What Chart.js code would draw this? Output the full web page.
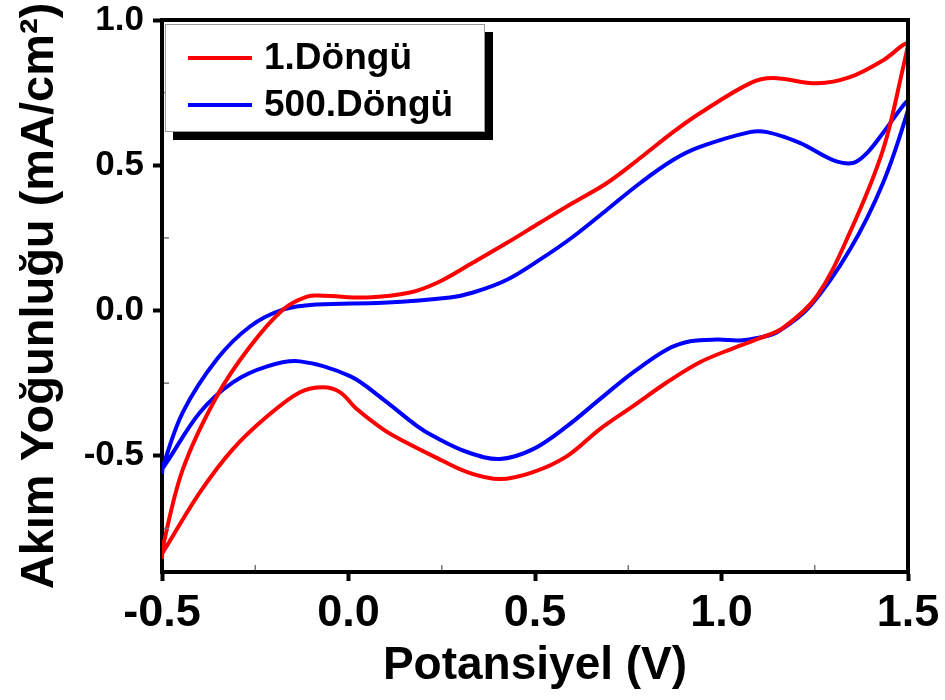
<!DOCTYPE html>
<html>
<head>
<meta charset="utf-8">
<script src="https://cdn.jsdelivr.net/npm/chart.js@4/dist/chart.umd.min.js"></script>
<style>
  html, body { margin: 0; padding: 0; background: #fff; }
  #wrap { width: 945px; height: 700px; }
</style>
</head>
<body>
<div id="wrap"><canvas id="cv"></canvas></div>
<script>
// DATA
const seriesLabels = ["1.Döngü", "500.Döngü"];
const seriesColors = ["#ff0000", "#0000ff"];

// 1.Döngü: anodic sweep (-0.5 -> 1.5) then cathodic sweep back
const redPotential = [
  -0.5, -0.497, -0.444, -0.353, -0.264, -0.176, -0.111, -0.068, 0.05, 0.165, 0.245, 0.334, 0.425,
  0.513, 0.602, 0.693, 0.782, 0.87, 0.942, 1.076, 1.138, 1.256, 1.344, 1.433, 1.5,
  1.487, 1.433, 1.344, 1.256, 1.165, 1.103, 1.031, 0.942, 0.854, 0.763, 0.674, 0.586, 0.495,
  0.406, 0.318, 0.227, 0.138, 0.092, 0.023, -0.023, -0.068, -0.13, -0.218, -0.31, -0.398, -0.487, -0.5
];
const redCurrent = [
  -0.855, -0.81, -0.546, -0.295, -0.124, 0.003, 0.048, 0.051, 0.045, 0.062, 0.1, 0.165, 0.233,
  0.302, 0.371, 0.439, 0.525, 0.614, 0.679, 0.782, 0.8, 0.782, 0.803, 0.861, 0.92,
  0.837, 0.553, 0.268, 0.05, -0.06, -0.095, -0.13, -0.178, -0.247, -0.329, -0.408, -0.501, -0.556,
  -0.58, -0.556, -0.501, -0.443, -0.408, -0.34, -0.281, -0.264, -0.281, -0.364, -0.477, -0.625, -0.81, -0.837
];

// 500.Döngü
const bluePotential = [
  -0.5, -0.497, -0.444, -0.353, -0.264, -0.176, -0.084, 0.092, 0.272, 0.334, 0.425, 0.513, 0.602,
  0.693, 0.782, 0.87, 0.942, 1.076, 1.122, 1.21, 1.299, 1.353, 1.39, 1.433, 1.5,
  1.5, 1.433, 1.344, 1.237, 1.149, 1.103, 1.05, 0.988, 0.916, 0.854, 0.763, 0.674, 0.586,
  0.495, 0.406, 0.318, 0.227, 0.184, 0.092, 0.004, -0.13, -0.218, -0.31, -0.398, -0.487, -0.5
];
const blueCurrent = [
  -0.563, -0.535, -0.35, -0.168, -0.055, 0.003, 0.021, 0.027, 0.045, 0.062, 0.106, 0.175, 0.254,
  0.347, 0.439, 0.518, 0.563, 0.614, 0.614, 0.577, 0.518, 0.508, 0.542, 0.611, 0.724,
  0.69, 0.439, 0.209, 0.014, -0.075, -0.093, -0.103, -0.1, -0.106, -0.134, -0.213, -0.305, -0.398,
  -0.477, -0.511, -0.487, -0.432, -0.398, -0.305, -0.226, -0.175, -0.192, -0.247, -0.35, -0.522, -0.546
];

const xTicks = [-0.5, 0.0, 0.5, 1.0, 1.5];
const yTicks = [-0.5, 0.0, 0.5, 1.0];
const xMinorTicks = [-0.25, 0.25, 0.75, 1.25];
const yMinorTicks = [-0.75, -0.25, 0.25, 0.75];

const FONT = "'Liberation Sans', Arial, sans-serif";

function toPoints(xs, ys) {
    return xs.map((x, i) => ({ x: x, y: ys[i] }));
}

// frame on top/right, minor ticks, and the boxed legend
const framePlugin = {
    id: "frame",
    afterDraw(chart) {
        const ctx = chart.ctx;
        const a = chart.chartArea;
        const xs = chart.scales.x;
        const ys = chart.scales.y;
        ctx.save();
        ctx.strokeStyle = "#000";
        ctx.lineWidth = 4;
        ctx.beginPath();
        ctx.moveTo(a.left - 2, a.top);
        ctx.lineTo(a.right, a.top);
        ctx.lineTo(a.right, a.bottom + 2);
        ctx.stroke();

        // minor ticks, pointing inward
        ctx.lineWidth = 1.5;
        ctx.strokeStyle = "#777";
        xMinorTicks.forEach(v => {
            const px = xs.getPixelForValue(v);
            ctx.beginPath();
            ctx.moveTo(px, a.bottom - 2);
            ctx.lineTo(px, a.bottom - 7);
            ctx.stroke();
        });
        yMinorTicks.forEach(v => {
            const py = ys.getPixelForValue(v);
            ctx.beginPath();
            ctx.moveTo(a.left + 2, py);
            ctx.lineTo(a.left + 7, py);
            ctx.stroke();
        });

        // legend box with drop shadow
        const bx = a.left + 3, by = a.top + 4, bw = 320, bh = 108;
        ctx.fillStyle = "#000";
        ctx.fillRect(bx + 8, by + 8, bw, bh);
        ctx.fillStyle = "#fff";
        ctx.fillRect(bx, by, bw, bh);
        ctx.lineWidth = 1;
        ctx.strokeStyle = "#999";
        ctx.strokeRect(bx + 0.5, by + 0.5, bw - 1, bh - 1);

        ctx.font = "bold 37px " + FONT;
        ctx.textBaseline = "middle";
        chart.data.datasets.forEach((ds, i) => {
            const cy = by + 34 + i * 47;
            ctx.strokeStyle = ds.borderColor;
            ctx.lineWidth = 4;
            ctx.beginPath();
            ctx.moveTo(bx + 23, cy);
            ctx.lineTo(bx + 87, cy);
            ctx.stroke();
            ctx.fillStyle = "#000";
            ctx.fillText(ds.label, bx + 99, cy + 1);
        });
        ctx.restore();
    }
};

new Chart(document.getElementById("cv"), {
    type: "scatter",
    data: {
        datasets: [
            {
                label: seriesLabels[0],
                data: toPoints(redPotential, redCurrent),
                borderColor: seriesColors[0],
                backgroundColor: seriesColors[0]
            },
            {
                label: seriesLabels[1],
                data: toPoints(bluePotential, blueCurrent),
                borderColor: seriesColors[1],
                backgroundColor: seriesColors[1]
            }
        ]
    },
    options: {
        responsive: true,
        maintainAspectRatio: false,
        animation: false,
        showLine: true,
        elements: {
            point: { radius: 0 },
            line: { borderWidth: 4, tension: 0.35, fill: false }
        },
        layout: { padding: { top: 20, right: 37, left: 0, bottom: 0 } },
        plugins: {
            legend: { display: false },
            tooltip: { enabled: false }
        },
        scales: {
            x: {
                type: "linear",
                min: -0.5,
                max: 1.5,
                afterBuildTicks: s => { s.ticks = xTicks.map(v => ({ value: v })); },
                afterFit: s => { s.height = 128; s.paddingLeft = 0; s.paddingRight = 0; },
                grid: { drawOnChartArea: false, tickLength: 9, tickWidth: 4, tickColor: "#000" },
                border: { color: "#000", width: 4 },
                ticks: {
                    color: "#000",
                    padding: 6,
                    maxRotation: 0,
                    font: { family: FONT, size: 45, weight: "bold" },
                    callback: v => v.toFixed(1)
                },
                title: {
                    display: true,
                    text: "Potansiyel (V)",
                    color: "#000",
                    padding: { top: 0, bottom: 6 },
                    font: { family: FONT, size: 46, weight: "bold" }
                }
            },
            y: {
                type: "linear",
                min: -0.9,
                max: 1.0,
                afterBuildTicks: s => { s.ticks = yTicks.map(v => ({ value: v })); },
                afterFit: s => { s.width = 162; s.paddingTop = 0; s.paddingBottom = 0; },
                grid: { drawOnChartArea: false, tickLength: 9, tickWidth: 4, tickColor: "#000" },
                border: { color: "#000", width: 4 },
                ticks: {
                    color: "#000",
                    padding: 9,
                    font: { family: FONT, size: 35, weight: "bold" },
                    callback: v => v.toFixed(1)
                },
                title: {
                    display: true,
                    text: "Akım Yoğunluğu (mA/cm²)",
                    color: "#000",
                    padding: { top: 12, bottom: 0 },
                    font: { family: FONT, size: 47, weight: "bold" }
                }
            }
        }
    },
    plugins: [framePlugin]
});
</script>
</body>
</html>
